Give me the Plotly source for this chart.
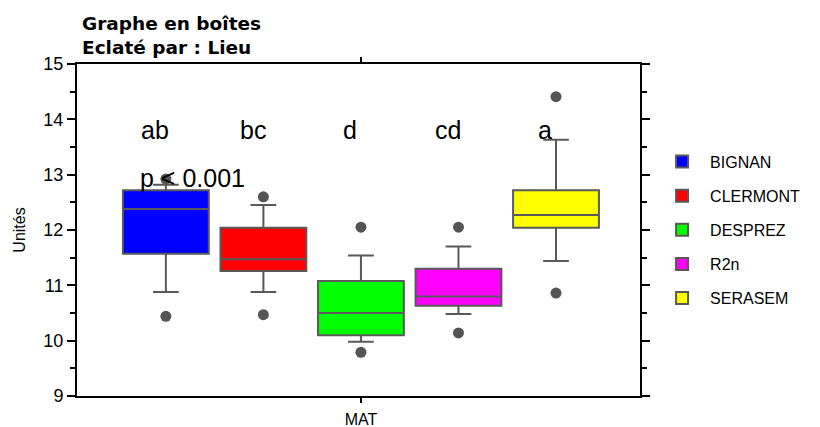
import plotly.graph_objects as go

# ---- data ----
lieux = ["BIGNAN", "CLERMONT", "DESPREZ", "R2n", "SERASEM"]
colors = ["#0000FF", "#FF0000", "#00FF00", "#FF00FF", "#FFFF00"]
q1 = [11.57, 11.26, 10.10, 10.63, 12.04]
median = [12.38, 11.47, 10.50, 10.80, 12.27]
q3 = [12.72, 12.04, 11.08, 11.30, 12.72]
lowerfence = [10.88, 10.88, 9.98, 10.48, 11.44]
upperfence = [12.82, 12.45, 11.54, 11.70, 13.63]
outliers = [[12.92, 10.44], [12.60, 10.47], [12.05, 9.79], [12.05, 10.14], [14.41, 10.86]]
letters = ["ab", "bc", "d", "cd", "a"]
letter_y = 13.8
pval_text = "p < 0.001"
pval_y = 12.94
category = "MAT"
y_ticks = [9, 10, 11, 12, 13, 14, 15]

GREY = "#595959"
TXT = "Liberation Sans, Arial, sans-serif"

fig = go.Figure()
for i, name in enumerate(lieux):
    fig.add_trace(go.Box(
        name=name,
        x=[category],
        q1=[q1[i]], median=[median[i]], q3=[q3[i]],
        lowerfence=[lowerfence[i]], upperfence=[upperfence[i]],
        y=[outliers[i]],
        boxpoints="outliers",
        fillcolor=colors[i],
        line=dict(color=GREY, width=2),
        marker=dict(color="#555555", size=11, outliercolor="#555555"),
        whiskerwidth=0.3,
        legendgroup=name,
        hoverinfo="skip",
    ))

n = len(lieux)
gap = 0.1
slot = (1 - gap) / n
for i, lab in enumerate(letters):
    fig.add_annotation(x=(i - (n - 1) / 2) * slot - 0.02, y=letter_y, xref="x", yref="y",
                       text=lab, showarrow=False, font=dict(family=TXT, size=25, color="black"))
fig.add_annotation(x=-2 * slot - 0.052, y=pval_y, xref="x", yref="y", xanchor="left",
                   text=pval_text, showarrow=False, font=dict(family=TXT, size=25, color="black"))

fig.add_annotation(x=0, y=1, xref="paper", yref="paper", xanchor="left", yanchor="bottom",
                   yshift=4, xshift=3, align="left",
                   text="<b>Graphe en boîtes</b><br><b>Eclaté par : Lieu</b>",
                   showarrow=False, font=dict(family="DejaVu Sans, sans-serif", size=18.5, color="black"))

# page body adds an 8px margin, so the figure is sized to end at the window edge
fig.update_layout(
    width=812, height=419,
    margin=dict(l=69, r=180, t=56, b=31),
    paper_bgcolor="white", plot_bgcolor="white",
    boxmode="group", boxgap=gap, boxgroupgap=0.12,
    showlegend=True,
    legend=dict(x=1.025, y=0.757, xanchor="left", yanchor="top", itemwidth=46,
                font=dict(family=TXT, size=16, color="black"),
                tracegroupgap=10.3, bgcolor="rgba(0,0,0,0)"),
    xaxis=dict(type="category", range=[-0.524, 0.515], showgrid=False, automargin=False,
               showline=True, linecolor="black", linewidth=2, mirror="allticks",
               ticks="outside", ticklen=5, tickwidth=2, tickcolor="black", ticklabelstandoff=3,
               tickfont=dict(family=TXT, size=16, color="black"), zeroline=False),
    yaxis=dict(range=[9, 15], tickvals=y_ticks, showgrid=False, zeroline=False, automargin=False,
               showline=True, linecolor="black", linewidth=2, mirror="allticks",
               ticks="outside", ticklen=8, tickwidth=2, tickcolor="black",
               tickfont=dict(family=TXT, size=18, color="black"),
               minor=dict(dtick=0.5, ticks="outside", ticklen=5, tickwidth=2, tickcolor="black"),
               title=dict(text="Unités", font=dict(family=TXT, size=16, color="black"), standoff=14)),
)

fig.write_html("out.html")
